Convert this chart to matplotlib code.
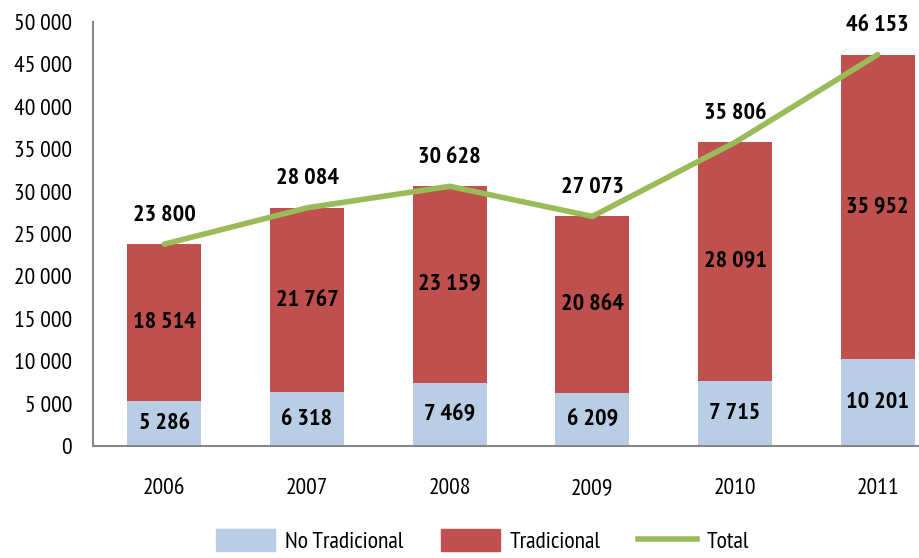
import matplotlib.pyplot as plt
from matplotlib.patches import Patch
from matplotlib.lines import Line2D

years = ['2006', '2007', '2008', '2009', '2010', '2011']
no_tradicional = [5286, 6318, 7469, 6209, 7715, 10201]
tradicional = [18514, 21767, 23159, 20864, 28091, 35952]
total = [23800, 28084, 30628, 27073, 35806, 46153]

c_blue = '#B9CDE5'
c_red = '#C0504D'
c_green = '#9BBB59'
c_axis = '#868686'

plt.rcParams['font.family'] = ['PT Sans Narrow', 'Liberation Sans', 'DejaVu Sans']


def fmt(v):
    # thin space as thousands separator
    return f'{v:,}'.replace(',', '\u2009')


fig = plt.figure(figsize=(9.19, 5.58), dpi=100)
# plot area runs off the right edge like in the original
ax = fig.add_axes([93 / 919, 112 / 558, 856 / 919, 424 / 558])

x = list(range(len(years)))
ax.bar(x, no_tradicional, width=0.52, color=c_blue, zorder=2)
ax.bar(x, tradicional, width=0.52, bottom=no_tradicional, color=c_red, zorder=2)
ax.plot(x, total, color=c_green, lw=4, solid_capstyle='round', zorder=3)

for i in x:
    ax.text(i, no_tradicional[i] / 2, fmt(no_tradicional[i]), ha='center', va='center',
            fontsize=17.5, fontweight='bold', zorder=4)
    ax.text(i, no_tradicional[i] + tradicional[i] / 2, fmt(tradicional[i]), ha='center',
            va='center', fontsize=17.5, fontweight='bold', zorder=4)
    ax.annotate(fmt(total[i]), (i, total[i]), xytext=(0, 21), textcoords='offset points',
                ha='center', va='center', fontsize=17.5, fontweight='bold', zorder=4)

ax.set_xlim(-0.5, 5.5)
ax.set_ylim(0, 50000)
ax.set_yticks(range(0, 50001, 5000))
ax.set_yticklabels([fmt(v) for v in range(0, 50001, 5000)], fontsize=17)
ax.set_xticks(x)
ax.set_xticklabels(years, fontsize=17)
ax.tick_params(axis='both', length=0)
ax.tick_params(axis='x', pad=23)
ax.tick_params(axis='y', pad=15)

for s in ['top', 'right']:
    ax.spines[s].set_visible(False)
for s in ['left', 'bottom']:
    ax.spines[s].set_color(c_axis)
    ax.spines[s].set_linewidth(1.5)

handles = [Patch(color=c_blue, label='No Tradicional'),
           Patch(color=c_red, label='Tradicional'),
           Line2D([], [], color=c_green, lw=4, label='Total')]
fig.legend(handles=handles, loc='center', bbox_to_anchor=(0.525, 0.03), ncol=3,
           frameon=False, fontsize=17, handlelength=2.5, handleheight=1.0,
           columnspacing=1.6, handletextpad=0.4, borderpad=0.2)

fig.savefig('out.png', dpi=100)
